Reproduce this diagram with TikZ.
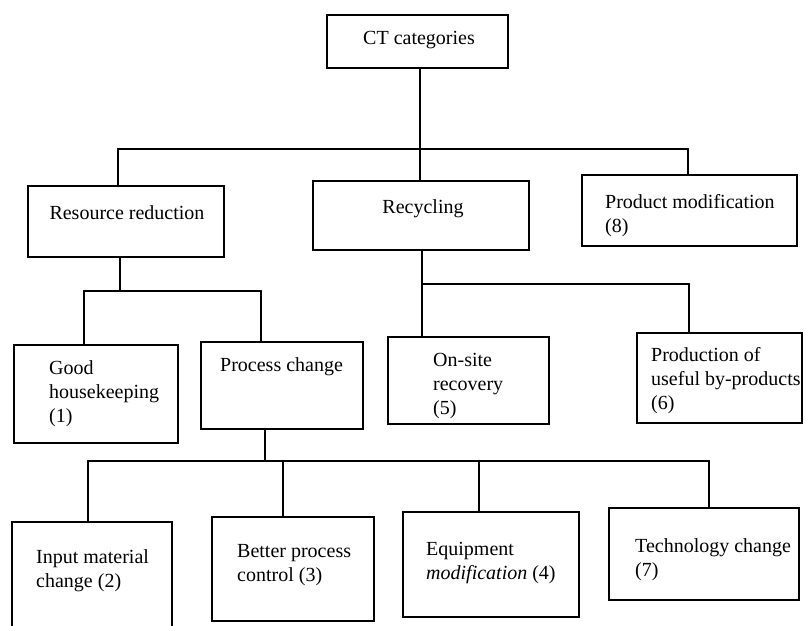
\documentclass[tikz,border=0pt]{standalone}
\usepackage{fontspec}
\setmainfont{Liberation Serif}
\usepackage{tikz}
\usetikzlibrary{positioning,calc}
\tikzset{
  catbox/.style={rectangle, draw=black, line width=2pt, inner sep=0pt},
  boxtext/.style={inner sep=0pt, align=left, font=\fontsize{20}{24}\selectfont},
  link/.style={line width=2pt, line cap=round}
}

\begin{document}
\begin{tikzpicture}[x=1pt,y=-1pt]
  \useasboundingbox (0,0) rectangle (806,626);
  \clip (0,0) rectangle (806,626);

  % Top level
  \node[catbox, minimum width=181, minimum height=53] (ct) at (417.5,41.5) {};
  \node[boxtext, anchor=north] (ctt) at (419,31) {CT categories};

  % Categories
  \node[catbox, minimum width=196, minimum height=71] (rr) at (126,221.5) {};
  \node[catbox, minimum width=216, minimum height=69] (rec) at (421,215.5) {};
  \node[catbox, minimum width=215, minimum height=71] (pm) at (689.5,210.5) {};
  \node[boxtext, anchor=north] (rrt) at (127,205.5) {Resource reduction};
  \node[boxtext, anchor=north] (rect) at (423,199.5) {Recycling};
  \node[boxtext, anchor=north west] (pmt) at (605,194.5) {Product modification\\(8)};

  % Sub-categories
  \node[catbox, minimum width=164, minimum height=98] (gh) at (96,394) {};
  \node[catbox, minimum width=162, minimum height=87] (pc) at (282,385.5) {};
  \node[catbox, minimum width=161, minimum height=87] (os) at (468.5,380.5) {};
  \node[catbox, minimum width=165, minimum height=90] (pu) at (719.5,378) {};
  \node[boxtext, anchor=north west] (ght) at (49,360.5) {Good\\housekeeping\\(1)};
  \node[boxtext, anchor=north west] (pct) at (220,357.5) {Process change};
  \node[boxtext, anchor=north west] (ost) at (433,353.5) {On-site\\recovery\\(5)};
  \node[boxtext, anchor=north west] (put) at (651,347.5) {Production of\\useful by-products\\(6)};

  % Process changes
  \node[catbox, minimum width=160, minimum height=110] (im) at (92,577) {};
  \node[catbox, minimum width=162, minimum height=104] (bp) at (293,569) {};
  \node[catbox, minimum width=176, minimum height=105] (em) at (491,564.5) {};
  \node[catbox, minimum width=190, minimum height=92] (tc) at (704,554) {};
  \node[boxtext, anchor=north west] (imt) at (36,549.5) {Input material\\change (2)};
  \node[boxtext, anchor=north west] (bpt) at (237,544.5) {Better process\\control (3)};
  \node[boxtext, anchor=north west] (emt) at (426,542.5) {Equipment\\\textit{modification} (4)};
  \node[boxtext, anchor=north west] (tct) at (635,538.5) {Technology change\\(7)};

  % Junctions
  \coordinate (j0) at (420,149);
  \coordinate (j0l) at (118,149);
  \coordinate (j0r) at (688,149);
  \coordinate (j1) at (120,291);
  \coordinate (j1l) at (84,291);
  \coordinate (j1r) at (261,291);
  \coordinate (j2) at (422,284);
  \coordinate (j2r) at (689,284);
  \coordinate (j3) at (265,461);
  \coordinate (j3a) at (88,461);
  \coordinate (j3b) at (283,461);
  \coordinate (j3c) at (479,461);
  \coordinate (j3d) at (709,461);

  % Connectors
  \draw[link] (j0 |- ct.south) -- (j0);
  \draw[link] (j0l) -- (j0r);
  \draw[link] (j0l) -- (j0l |- rr.north);
  \draw[link] (j0) -- (j0 |- rec.north);
  \draw[link] (j0r) -- (j0r |- pm.north);

  \draw[link] (j1 |- rr.south) -- (j1);
  \draw[link] (j1l) -- (j1r);
  \draw[link] (j1l) -- (j1l |- gh.north);
  \draw[link] (j1r) -- (j1r |- pc.north);

  \draw[link] (j2 |- rec.south) -- (j2);
  \draw[link] (j2) -- (j2r);
  \draw[link] (j2) -- (j2 |- os.north);
  \draw[link] (j2r) -- (j2r |- pu.north);

  \draw[link] (j3 |- pc.south) -- (j3);
  \draw[link] (j3a) -- (j3d);
  \draw[link] (j3a) -- (j3a |- im.north);
  \draw[link] (j3b) -- (j3b |- bp.north);
  \draw[link] (j3c) -- (j3c |- em.north);
  \draw[link] (j3d) -- (j3d |- tc.north);
\end{tikzpicture}
\end{document}
